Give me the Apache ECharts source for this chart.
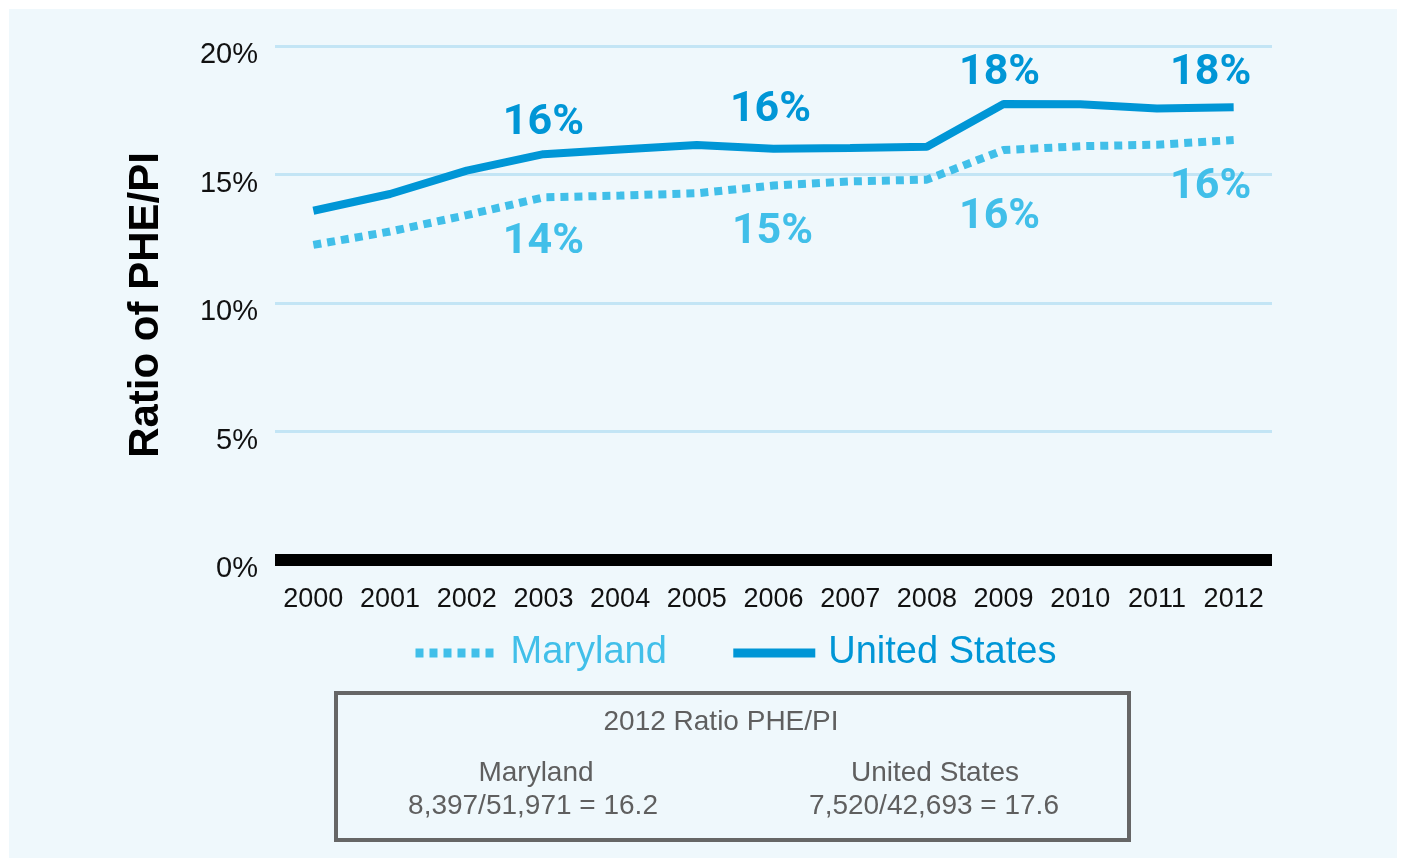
<!DOCTYPE html>
<html>
<head>
<meta charset="utf-8">
<title>Ratio of PHE/PI</title>
<script src="https://cdn.jsdelivr.net/npm/echarts@6/dist/echarts.min.js"></script>
<style>
  html, body { margin: 0; padding: 0; background: #fff; }
  #bg { position: absolute; left: 9px; top: 9px; width: 1388px; height: 849px; background: #eff8fc; }
  #chart { position: absolute; left: 0; top: 0; width: 1402px; height: 862px; }
</style>
</head>
<body>
<div id="bg"></div>
<div id="chart"></div>
<script>
// values, percent of personal income
var years = ['2000', '2001', '2002', '2003', '2004', '2005', '2006', '2007', '2008', '2009', '2010', '2011', '2012']
var maryland = [12.26, 12.78, 13.42, 14.11, 14.18, 14.27, 14.57, 14.73, 14.8, 15.95, 16.1, 16.16, 16.34]
var unitedStates = [13.59, 14.24, 15.15, 15.79, 15.97, 16.15, 16.0, 16.03, 16.08, 17.74, 17.73, 17.57, 17.62]
var labelYears = [3, 6, 9, 12]
var yTicks = [0, 5, 10, 15, 20]

var MD_COLOR = '#41bfe9'
var US_COLOR = '#0096d6'
var FONT = 'Liberation Sans'
var BOX_FONT = '28px "Liberation Sans"'

// little labels on top of / under the lines
function labelPoints(values, offsets) {
  return labelYears.map(function(idx, k) {
    return {
      coord: [years[idx], values[idx]],
      value: Math.round(values[idx]) + '%',
      label: { offset: offsets[k] }
    }
  })
}

function boxText(x, y, text) {
  return {
    type: 'text',
    x: x,
    y: y,
    style: { text: text, fill: '#5f5f5f', font: BOX_FONT, align: 'center', verticalAlign: 'middle' }
  }
}

var chart = echarts.init(document.getElementById('chart'))

chart.setOption({
  backgroundColor: 'transparent',
  animation: false,
  grid: {
    left: 275,
    right: 130,
    top: 46,
    bottom: 302
  },
  legend: {
    left: 411,
    top: 634,
    padding: 0,
    itemWidth: 82,
    itemHeight: 9,
    itemGap: 62,
    lineStyle: { width: 9 },
    itemStyle: { opacity: 0 },
    textStyle: {
      fontFamily: FONT,
      fontSize: 38,
      padding: [0, 0, 0, 8]
    },
    data: [
      { name: 'Maryland', textStyle: { color: MD_COLOR } },
      { name: 'United States', textStyle: { color: US_COLOR } }
    ]
  },
  xAxis: {
    type: 'category',
    data: years,
    boundaryGap: true,
    axisLine: { lineStyle: { color: '#000', width: 12, cap: 'butt' } },
    axisTick: { show: false },
    axisLabel: {
      interval: 0,
      margin: 26,
      color: '#111',
      fontFamily: FONT,
      fontSize: 27
    }
  },
  yAxis: {
    type: 'value',
    min: yTicks[0],
    max: yTicks[yTicks.length - 1],
    interval: 5,
    name: 'Ratio of PHE/PI',
    nameLocation: 'middle',
    nameGap: 108,
    nameTextStyle: {
      color: '#000',
      fontFamily: FONT,
      fontWeight: 'bold',
      fontSize: 42,
      padding: [0, 4, 0, 0]
    },
    axisLine: { show: false },
    axisTick: { show: false },
    axisLabel: {
      margin: 17,
      color: '#111',
      fontFamily: FONT,
      fontSize: 29,
      verticalAlign: 'top',
      lineHeight: 18,
      formatter: '{value}%'
    },
    splitLine: { lineStyle: { color: '#c3e5f5', width: 3 } }
  },
  series: [
    {
      name: 'Maryland',
      type: 'line',
      data: maryland,
      symbol: 'none',
      color: MD_COLOR,
      lineStyle: { color: MD_COLOR, width: 8, type: [8, 6], cap: 'butt' },
      z: 3,
      markPoint: {
        symbol: 'circle',
        symbolSize: 1,
        itemStyle: { color: 'rgba(0,0,0,0)' },
        label: {
          show: true,
          position: 'inside',
          formatter: '{c}',
          color: MD_COLOR,
          fontFamily: 'Roboto',
          fontWeight: 'bold',
          fontSize: 43
        },
        data: labelPoints(maryland, [[0, 45], [-1, 47], [-4, 67], [-23, 47]])
      }
    },
    {
      name: 'United States',
      type: 'line',
      data: unitedStates,
      symbol: 'none',
      color: US_COLOR,
      lineStyle: { color: US_COLOR, width: 8 },
      z: 4,
      markPoint: {
        symbol: 'circle',
        symbolSize: 1,
        itemStyle: { color: 'rgba(0,0,0,0)' },
        label: {
          show: true,
          position: 'inside',
          formatter: '{c}',
          color: US_COLOR,
          fontFamily: 'Roboto',
          fontWeight: 'bold',
          fontSize: 43
        },
        data: labelPoints(unitedStates, [[0, -31], [-3, -39], [-4, -31], [-23, -34]])
      }
    }
  ],
  graphic: [
    {
      type: 'rect',
      shape: { x: 336, y: 693, width: 793, height: 147 },
      style: { fill: 'none', stroke: '#666', lineWidth: 4 }
    },
    boxText(721, 722, '2012 Ratio PHE/PI'),
    boxText(536, 773, 'Maryland'),
    boxText(533, 806, '8,397/51,971 = 16.2'),
    boxText(935, 773, 'United States'),
    boxText(934, 806, '7,520/42,693 = 17.6')
  ]
})
</script>
</body>
</html>
